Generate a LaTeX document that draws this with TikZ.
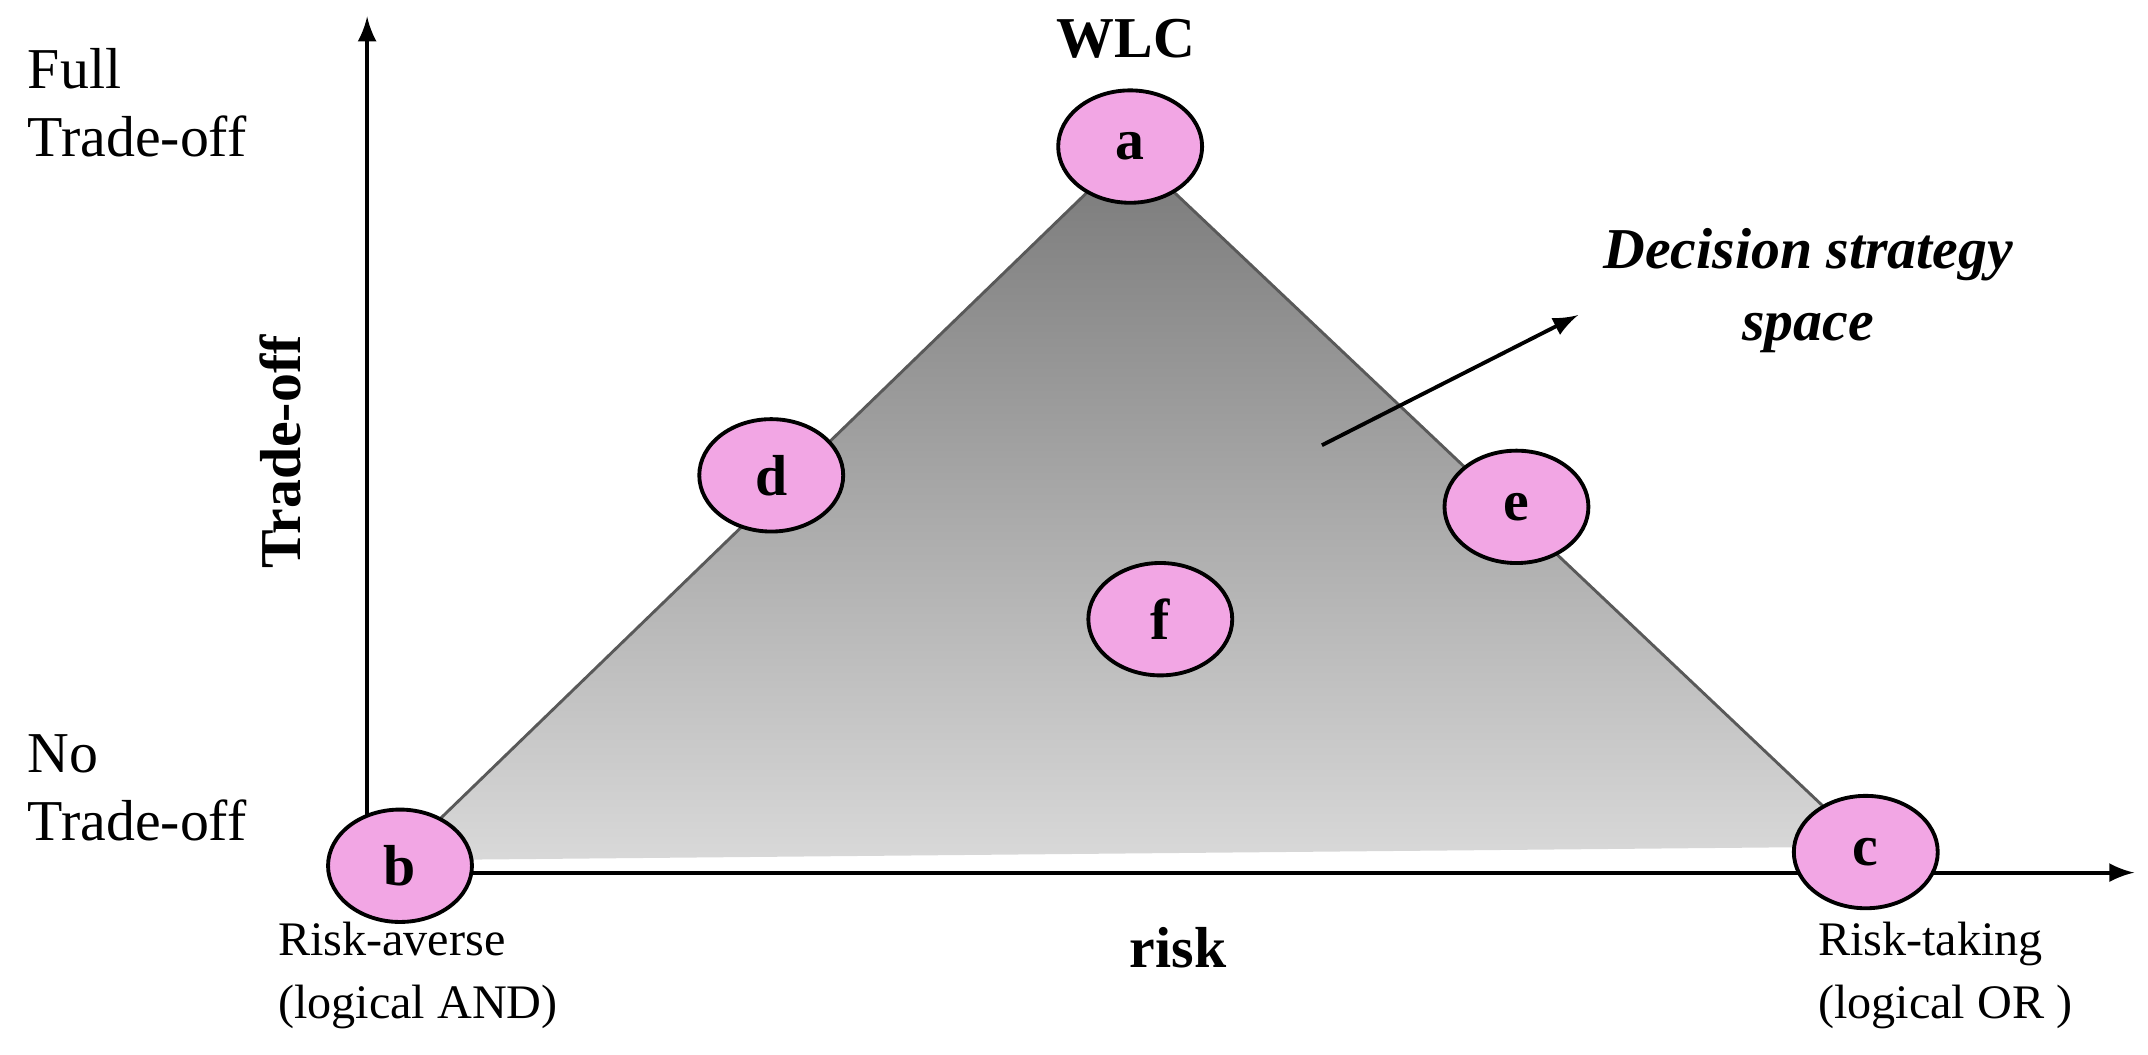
\documentclass[tikz,border=0pt]{standalone}
\usepackage{fontspec}
\setmainfont{Liberation Serif}
\begin{document}
\begin{tikzpicture}[x=0.01cm,y=-0.01cm,
  pt/.style={ellipse,draw=black,line width=0.8pt,fill=pinkc,minimum width=1.05cm,minimum height=0.82cm,inner sep=0pt,font=\fontsize{12}{14}\selectfont\bfseries},
  lab/.style={font=\fontsize{12}{14}\selectfont,align=left}]
\usetikzlibrary{shapes.geometric}
\definecolor{pinkc}{HTML}{F2A6E4}
\useasboundingbox (0,0) rectangle (1568,770);
\coordinate (o) at (268,637);
\coordinate (ytop) at (268,12);
\coordinate (xend) at (1558,637);
\shade[top color=gray!95!black,bottom color=gray!30] (825,110) -- (290,628) -- (1362,618) -- cycle;
\draw[gray!70!black,line width=0.6pt] (825,110) -- (290,628) (825,110) -- (1362,618);
\draw[line width=0.8pt,-latex] (o) -- (ytop);
\draw[line width=0.8pt,-latex] (o) -- (xend);
\node[pt] (a) at (825,107) {a};
\node[pt] (d) at (563,347) {d};
\node[pt] (e) at (1107,370) {e};
\node[pt] (f) at (847,452) {f};
\node[pt] (b) at (292,632) {b};
\node[pt] (c) at (1362,622) {c};
\node[font=\fontsize{12}{14}\selectfont\bfseries] (wlc) at (822,28) {WLC};
\node[lab,anchor=west,text width=3cm] (full) at (8,75) {Full\\Trade-off};
\node[lab,anchor=west,text width=3cm] (no) at (8,575) {No\\Trade-off};
\node[font=\fontsize{12}{14}\selectfont\bfseries,rotate=90] (to) at (205,330) {Trade-off};
\node[font=\fontsize{12}{14}\selectfont\bfseries] (risk) at (860,692) {risk};
\node[lab,align=left,font=\fontsize{10}{13}\selectfont] (ra) at (305,712) {Risk-averse\\(logical AND)};
\node[lab,align=left,font=\fontsize{10}{13}\selectfont] (rt) at (1420,712) {Risk-taking\\(logical OR )};
\node[font=\fontsize{12}{15}\selectfont\bfseries\itshape,align=center] (dss) at (1320,212) {Decision strategy\\space};
\coordinate (as) at (965,325);
\coordinate (ae) at (1152,230);
\draw[line width=0.8pt,-latex] (as) -- (ae);
\end{tikzpicture}
\end{document}
